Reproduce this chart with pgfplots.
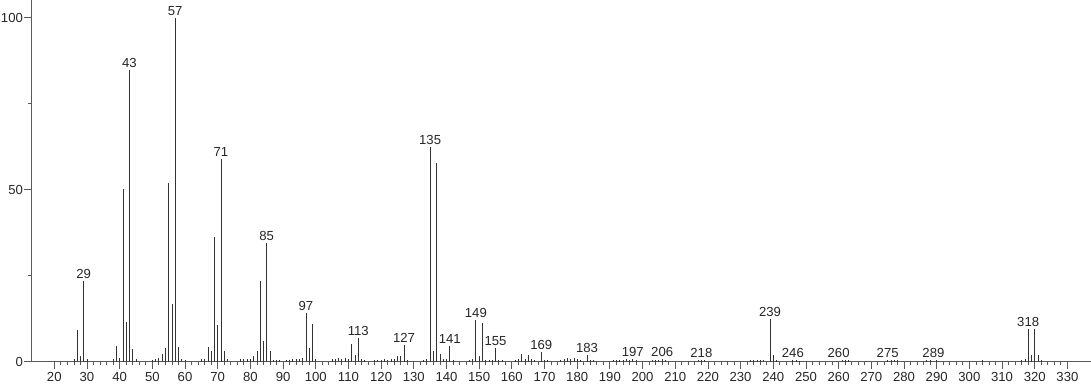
\documentclass[border=0pt]{standalone}
\usepackage{pgfplots}
\pgfplotsset{compat=1.18}
\usepackage{fontspec}
\setmainfont{Liberation Sans}
\definecolor{axisgray}{HTML}{5A5A5A}
\definecolor{peak}{HTML}{333333}
\pgfplotstableread{
mz int
26 0.7
27 9.4
28 1.6
29 23.4
30 0.8
38 0.8
39 4.7
40 1.0
41 50.2
42 11.7
43 84.9
44 3.6
45 0.8
50 0.6
51 0.9
52 1.0
53 2.4
54 3.9
55 52.1
56 16.9
57 100
58 4.3
59 0.8
60 0.5
65 0.8
66 0.8
67 4.2
68 3.3
69 36.3
70 10.6
71 59.0
72 3.1
73 0.7
77 0.7
78 0.8
79 0.8
80 0.7
81 1.6
82 3.3
83 23.4
84 6.0
85 34.6
86 3.3
87 0.5
88 0.6
89 0.6
91 0.6
92 0.6
93 0.7
94 0.7
95 0.9
96 1.0
97 14.2
98 3.9
99 11.1
100 0.9
105 0.7
106 0.8
107 1.2
108 0.8
109 1.2
110 0.7
111 5.2
112 2.1
113 7.0
114 0.7
115 0.6
118 0.6
119 0.6
120 0.6
121 0.7
122 0.6
123 0.7
124 0.7
125 1.6
126 1.6
127 4.8
128 0.6
133 0.6
134 0.8
135 62.5
136 3.2
137 57.7
138 2.3
139 0.7
140 0.8
141 4.7
142 0.6
147 0.5
148 0.8
149 12.1
150 1.6
151 11.3
152 0.6
153 0.6
154 0.6
155 3.9
156 0.6
157 0.6
161 0.5
162 0.7
163 2.3
164 0.8
165 2.0
166 0.7
167 0.5
169 2.9
170 0.6
171 0.5
175 0.5
176 0.7
177 1.0
178 0.8
179 1.0
180 0.7
181 0.6
183 2.0
184 0.6
185 0.5
191 0.6
192 0.6
193 0.6
194 0.6
195 0.8
196 0.6
197 0.9
198 0.5
203 0.5
204 0.6
205 0.6
206 0.7
207 0.6
217 0.6
218 0.6
219 0.6
233 0.5
234 0.6
235 0.6
236 0.6
237 0.5
239 12.5
240 2.0
241 0.6
246 0.5
247 0.6
248 0.4
261 0.6
262 0.6
263 0.5
275 0.5
276 0.6
277 0.6
278 0.5
287 0.5
288 0.6
290 0.6
304 0.5
316 0.5
317 0.8
318 9.6
319 2.1
320 9.6
321 2.0
322 0.5
}\spectrum
\pgfplotstableread{
mz int
29 23.4
43 84.9
57 100
71 59.0
85 34.6
97 14.2
113 7.0
127 4.8
135 62.5
141 4.7
149 12.1
155 3.9
169 2.9
183 2.0
197 0.9
206 0.7
218 0.6
239 12.5
246 0.6
260 0.6
275 0.6
289 0.6
318 9.6
}\labels
\begin{document}
\begin{tikzpicture}
\begin{axis}[
 scale only axis, width=1061bp, height=362bp,
 xmin=12.9, xmax=337.1, ymin=0, ymax=105,
 axis lines=left, axis line style={-, axisgray, line width=0.8bp},
 xtick={20,30,...,330}, minor x tick num=4,
 ytick={0,50,100}, minor ytick={25,75},
 tick align=outside,
 major tick length=7bp, minor tick length=3.5bp,
 every tick/.style={axisgray, line width=0.8bp},
 tick label style={font=\fontsize{13.2}{15}\selectfont, text=black!85},
 yticklabel style={inner sep=1bp},
 /pgf/number format/assume math mode=true,
 clip=false,
]
\addplot[ycomb, peak, line width=0.8bp, mark=none] table[x=mz, y=int] {\spectrum};
\addplot[draw=none, mark=none, nodes near coords={\pgfmathprintnumber[assume math mode=true]{\pgfplotspointmeta}}, point meta=x,
 every node near coord/.style={anchor=base, yshift=2.5bp, inner sep=0pt, font=\fontsize{13.2}{15}\selectfont, text=black!85}] table[x=mz, y=int] {\labels};
\end{axis}
\end{tikzpicture}
\end{document}
